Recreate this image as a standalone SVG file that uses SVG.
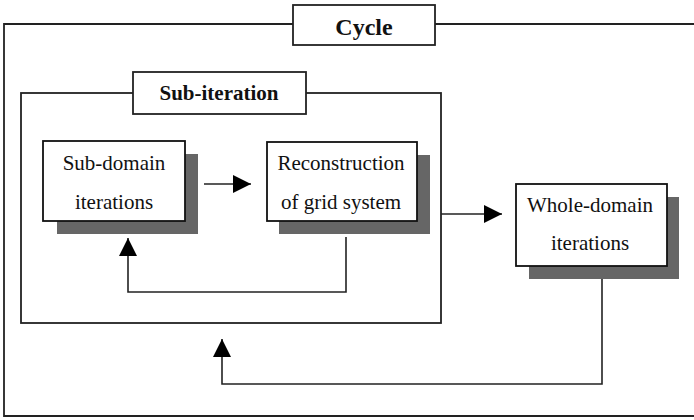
<svg xmlns="http://www.w3.org/2000/svg" width="694" height="420" viewBox="0 0 694 420">
<defs>
<style>
.frame{fill:none;stroke:#222;stroke-width:1.8}
.label{fill:#fff;stroke:#222;stroke-width:1.8}
.box{fill:#fff;stroke:#111;stroke-width:1.8}
.shadow{fill:#666;stroke:none}
.conn{fill:none;stroke:#222;stroke-width:1.6}
.t{font-family:"Liberation Serif","Times New Roman",serif;font-size:21px;fill:#111;text-anchor:middle}
.tb{font-family:"Liberation Serif","Times New Roman",serif;font-weight:bold;fill:#111;text-anchor:middle}
</style>
<marker id="ah" markerWidth="18" markerHeight="18" viewBox="0 0 18 18" refX="18" refY="9" orient="auto" markerUnits="userSpaceOnUse">
<path d="M0,0 L18,9 L0,18 Z" fill="#000"/>
</marker>
</defs>
<rect width="694" height="420" fill="#fff"/>
<g id="cycle">
<path class="frame" d="M694,24 H4 V416 H694"/>
<rect class="label" x="293" y="5" width="142" height="40"/>
<text class="tb" x="364" y="35" font-size="24">Cycle</text>
</g>
<g id="sub-iteration">
<rect class="frame" x="21" y="93" width="420" height="230"/>
<rect class="label" x="133" y="72" width="173" height="42"/>
<text class="tb" x="219" y="100" font-size="21">Sub-iteration</text>
</g>
<g id="sub-domain">
<rect class="shadow" x="57" y="154" width="141" height="80"/>
<rect class="box" x="43" y="141" width="142" height="80"/>
<text class="t" x="114" y="170">Sub-domain</text>
<text class="t" x="114" y="209">iterations</text>
</g>
<g id="reconstruction">
<rect class="shadow" x="279" y="155" width="151" height="79"/>
<rect class="box" x="267" y="142" width="150" height="79"/>
<text class="t" x="341" y="170">Reconstruction</text>
<text class="t" x="341" y="209">of grid system</text>
</g>
<g id="whole-domain">
<rect class="shadow" x="529" y="197" width="150" height="82"/>
<rect class="box" x="516" y="184" width="151" height="82"/>
<text class="t" x="590" y="212">Whole-domain</text>
<text class="t" x="590" y="250">iterations</text>
</g>
<g id="connectors">
<path class="conn" d="M204,184 H251" marker-end="url(#ah)"/>
<path class="conn" d="M346,237 V292 H128 V238" marker-end="url(#ah)"/>
<path class="conn" d="M441,214 H502" marker-end="url(#ah)"/>
<path class="conn" d="M602,279 V384 H222 V339" marker-end="url(#ah)"/>
</g>
</svg>
